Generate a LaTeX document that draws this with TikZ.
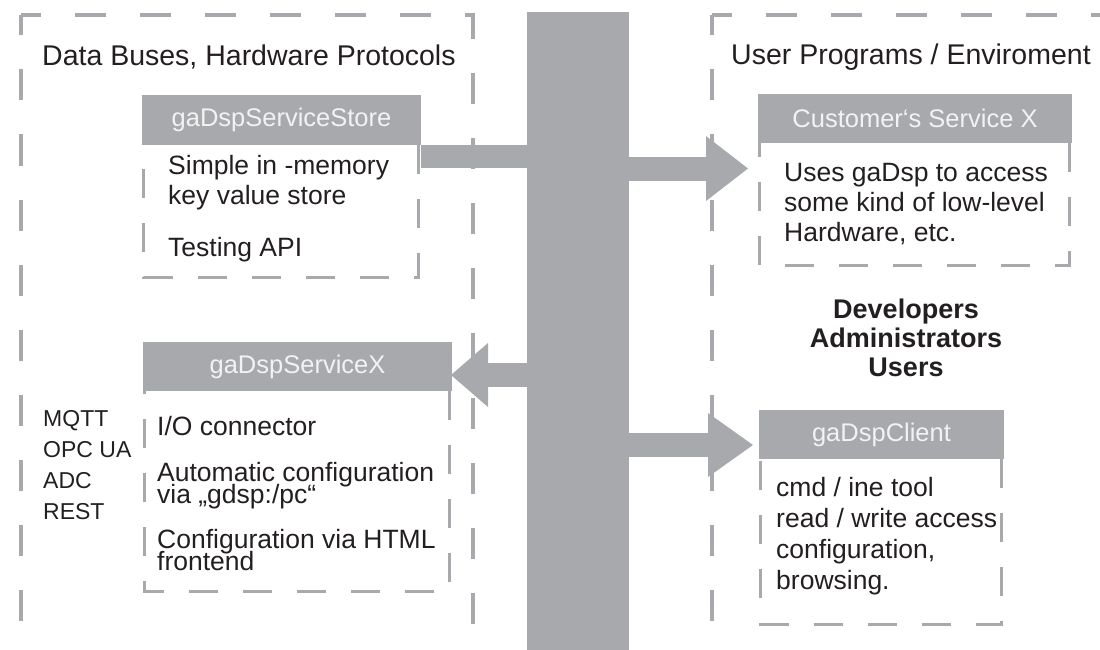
\documentclass[tikz,border=0pt]{standalone}
\usepackage{fontspec}
\setmainfont{Liberation Sans}
\usetikzlibrary{positioning, arrows.meta}
\definecolor{busgray}{HTML}{A7A9AC}
\definecolor{headtext}{HTML}{F2F2F3}
\definecolor{ink}{HTML}{231F20}
\newcommand\tightskip{\lineskiplimit=-100pt\relax}
\tikzset{
  header/.style={
    rectangle,
    fill=busgray,
    text=headtext,
    inner sep=0pt,
    font=\fontsize{25.5}{30}\selectfont
  },
  body/.style={
    rectangle,
    inner sep=0pt
  },
  boxedge/.style={
    draw=busgray,
    line width=3pt,
    dash pattern=on 29pt off 25pt
  },
  outerframe/.style={
    draw=busgray,
    line width=4pt,
    dash pattern=on 31pt off 34pt,
    dash phase=11pt
  },
  bodytext/.style={
    anchor=north west,
    inner sep=0pt,
    align=left,
    text=ink,
    font=\fontsize{26.5}{30}\selectfont
  },
  bigarrow/.style={
    draw=busgray,
    line width=24pt
  }
}

\begin{document}
\begin{tikzpicture}[x=1pt, y=-1pt]
\useasboundingbox (0,0) rectangle (1100,650);

% frames
\coordinate (lfTL) at (21.3,15.5);
\coordinate (lfBL) at (21.3,650);
\coordinate (lfTR) at (472.5,15.5);
\coordinate (lfBR) at (472.5,650);
\draw[outerframe] (lfTL) -- (lfBL);
\draw[outerframe] (lfTL) -- (lfTR) -- (lfBR);

\coordinate (rfTL) at (712,15.5);
\coordinate (rfBL) at (712,650);
\coordinate (rfTR) at (1110,15.5);
\draw[outerframe] (rfTL) -- (rfBL);
\draw[outerframe] (rfTL) -- (rfTR);

\node[bodytext, font=\fontsize{28.5}{34}\selectfont] (leftTitle) at (42,44.5)
  {Data Buses, Hardware Protocols};
\node[bodytext, font=\fontsize{28.5}{34}\selectfont] (rightTitle) at (731,43.5)
  {User Programs / Enviroment};

% bus
\node[fill=busgray, inner sep=0pt, minimum width=102pt, minimum height=638pt] (bus) at (578,331) {};

% edges
\coordinate (custIn) at (748,168.5);
\coordinate (svcIn) at (451,375);
\coordinate (clientIn) at (753,445);

\draw[bigarrow, -{Triangle[length=42pt, width=65pt, line width=0pt]}] (custIn -| bus) -- (custIn);
\draw[bigarrow, -{Triangle[length=37pt, width=64pt, line width=0pt]}] (svcIn -| bus) -- (svcIn);
\draw[bigarrow, -{Triangle[length=45pt, width=64pt, line width=0pt]}] (clientIn -| bus) -- (clientIn);

% nodes
\node[header, minimum width=279pt, minimum height=50pt] (storeHead) at (281.5,120) {gaDspServiceStore};
\node[body, below=0pt of storeHead.south west, anchor=north west, xshift=2pt,
      minimum width=274pt, minimum height=132pt] (storeBody) {};
\draw[boxedge] (storeBody.north east) -- (storeBody.south east) -- (storeBody.south west) -- (storeBody.north west);
\node[bodytext] (storeText) at (168,155)
  {Simple in -memory\\key value store\\[22pt]Testing API};

\coordinate (storeOut) at ([yshift=-11.5pt]storeHead.south east);
\draw[bigarrow, line width=23pt] (storeOut) -- (storeOut -| bus);

\node[header, minimum width=314pt, minimum height=49pt] (custHead) at (915,118.5) {Customer‘s Service X};
\node[body, below=0pt of custHead.south west, anchor=north west, xshift=2pt,
      minimum width=309pt, minimum height=122pt] (custBody) {};
\draw[boxedge] (custBody.north east) -- (custBody.south east) -- (custBody.south west) -- (custBody.north west);
\node[bodytext] (custText) at (784,163)
  {Uses gaDsp to access\\some kind of low-level\\Hardware, etc.};

\node[align=center, text=ink, font=\fontsize{27}{29}\selectfont\bfseries] (roles) at (906,338)
  {Developers\\Administrators\\Users};

\node[header, minimum width=309pt, minimum height=49pt] (svcHead) at (297.5,366.5) {gaDspServiceX};
\node[body, below=0pt of svcHead.south west, anchor=north west, xshift=2pt,
      minimum width=304pt, minimum height=200pt] (svcBody) {};
\draw[boxedge] (svcBody.north east) -- (svcBody.south east) -- (svcBody.south west) -- (svcBody.north west);
\node[bodytext, font=\fontsize{26.5}{22}\selectfont\tightskip] (svcText) at (157,416.5)
  {I/O connector\\[24pt]Automatic configuration\\via „gdsp:/pc“\\[23pt]Configuration via HTML\\frontend};

\node[bodytext, font=\fontsize{23}{31}\selectfont] (protocols) at (43,410)
  {MQTT\\OPC UA\\ADC\\REST};

\node[header, minimum width=245pt, minimum height=49pt] (clientHead) at (881.5,434.5) {gaDspClient};
\node[body, below=0pt of clientHead.south west, anchor=north west, xshift=2pt,
      minimum width=240pt, minimum height=165pt] (clientBody) {};
\draw[boxedge] (clientBody.north east) -- (clientBody.south east) -- (clientBody.south west) -- (clientBody.north west);
\node[bodytext, font=\fontsize{26.5}{31}\selectfont] (clientText) at (776,477.5)
  {cmd / ine tool\\read / write access\\configuration,\\browsing.};
\end{tikzpicture}
\end{document}
